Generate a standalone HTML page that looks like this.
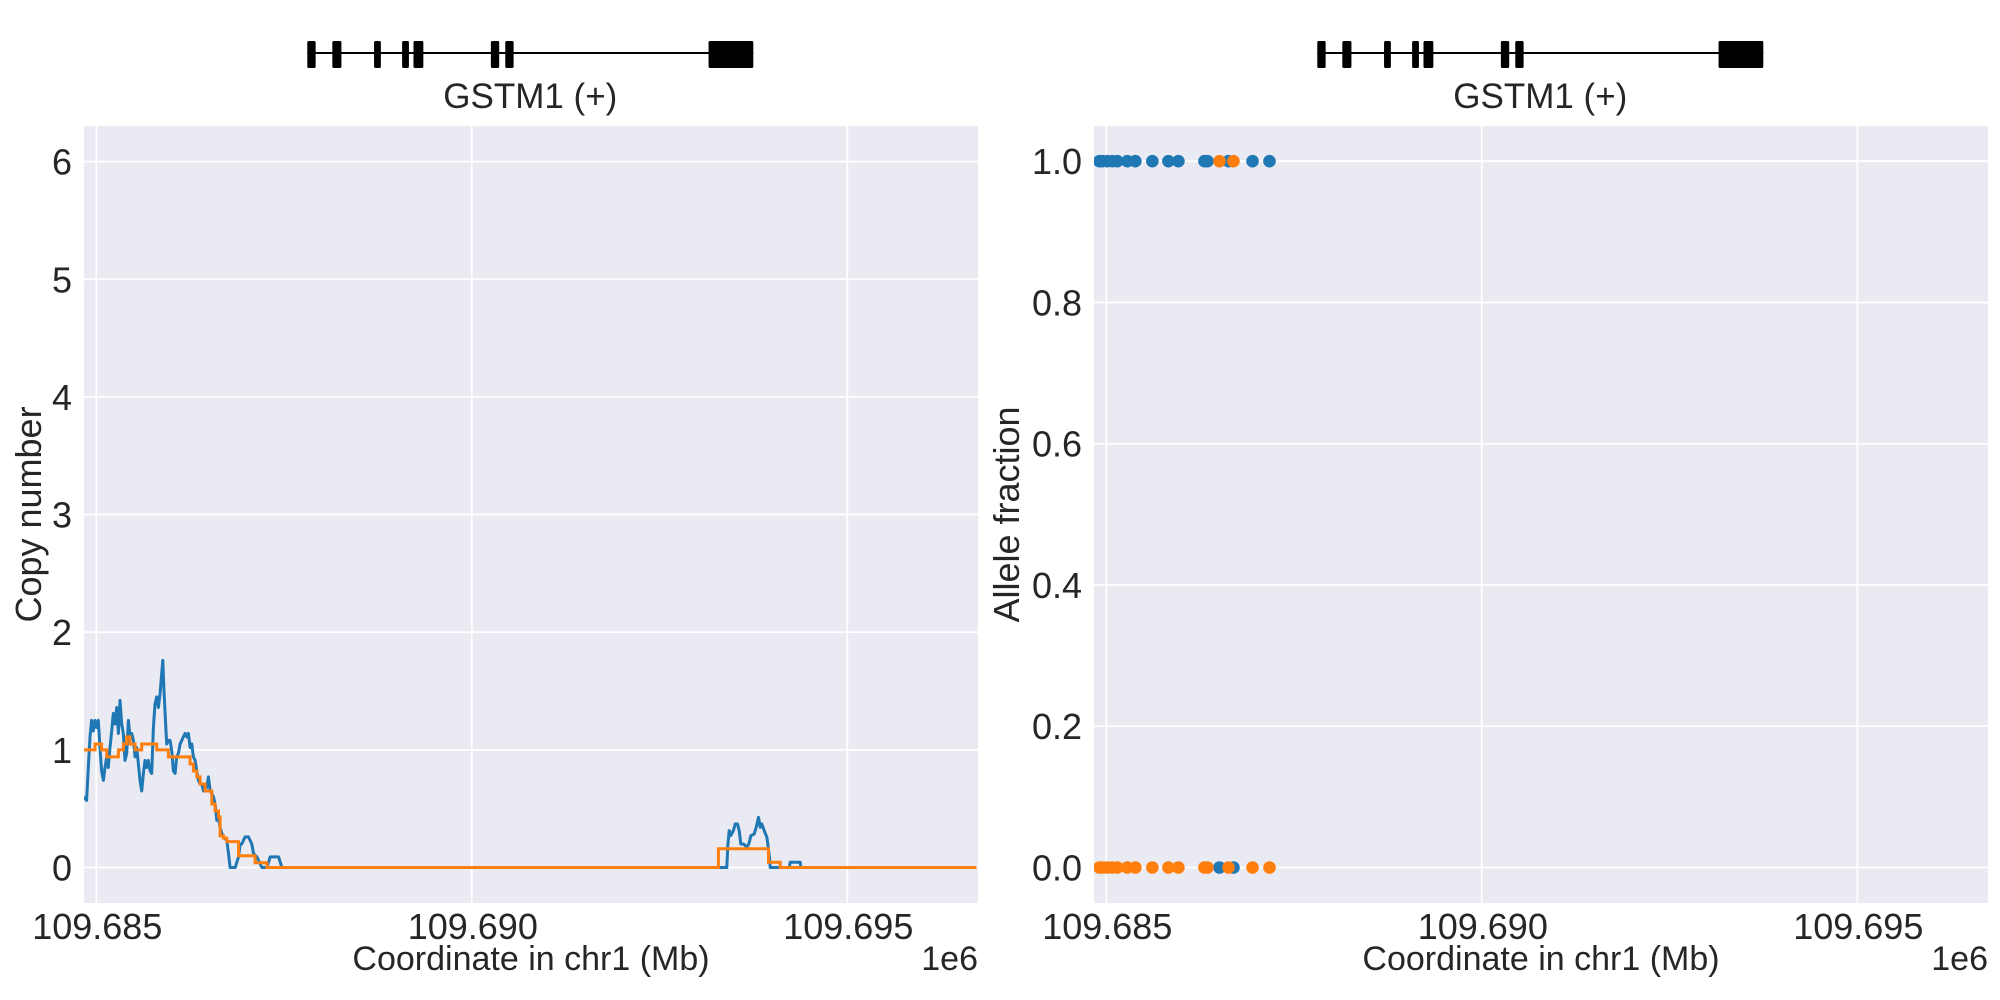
<!DOCTYPE html>
<html><head><meta charset="utf-8">
<style>
html,body{margin:0;padding:0;background:#fff;}
svg{display:block;font-family:"Liberation Sans",sans-serif;}
</style></head>
<body>
<svg id="fig" width="2000" height="1000" viewBox="0 0 2000 1000" xmlns="http://www.w3.org/2000/svg"></svg>
<script>
// ---- data ----
const cnBlueOffsetBp = [-173,-129,-106,-84,-62,-40,-17,5,27,49,71,94,116,138,160,183,205,227,249,271,294,316,338,360,382,405,427,449,471,494,516,538,560,582,605,627,649,671,693,716,738,760,782,804,827,849,871,885,902,916,938,960,982,1005,1027,1049,1071,1093,1116,1138,1160,1182,1205,1227,1249,1271,1293,1316,1338,1360,1382,1405,1427,1449,1471,1493,1516,1538,1560,1582,1605,1627,1649,1671,1693,1738,1760,1782,1849,1893,1916,1938,1982,2027,2071,2093,2138,2182,2205,2271,2316,2427,2471,8396,8409,8427,8449,8484,8507,8538,8560,8582,8618,8662,8689,8716,8760,8787,8818,8840,8862,8893,8929,8947,8964,8973,9227,9240,9373,9382,11720];
const cnBlueValues = [0.60,0.57,0.85,1.11,1.25,1.16,1.25,1.19,1.25,1.02,0.82,0.74,0.85,0.94,0.85,1.02,1.16,1.31,1.22,1.36,1.14,1.42,1.22,1.14,0.91,0.97,1.25,1.11,1.14,1.08,0.94,1.02,0.88,0.74,0.65,0.80,0.91,0.85,0.91,0.82,0.80,1.19,1.39,1.45,1.36,1.48,1.65,1.76,1.50,1.31,1.05,1.08,1.08,0.99,0.82,0.80,0.94,0.97,1.05,1.08,1.11,1.14,1.11,1.14,1.02,1.05,0.94,0.91,0.82,0.74,0.71,0.71,0.65,0.71,0.68,0.77,0.65,0.63,0.60,0.54,0.40,0.43,0.34,0.29,0.26,0.23,0.12,0,0,0.09,0.20,0.20,0.26,0.26,0.20,0.12,0.09,0.03,0,0,0.09,0.09,0,0,0.187,0.314,0.271,0.314,0.37,0.37,0.314,0.2,0.2,0.173,0.2,0.271,0.285,0.342,0.427,0.342,0.37,0.314,0.257,0.173,0.087,0,0,0.045,0.045,0,0];
const cnOrangeStartBp = [-173,-17,71,138,294,360,405,449,516,605,804,960,1249,1293,1338,1382,1449,1538,1582,1627,1649,1693,1738,1893,2115,2271,8284,8951,9107];
const cnOrangeValues = [1.0,1.05,1.0,0.94,1.0,1.05,1.11,1.05,1.0,1.05,1.0,0.94,0.88,0.82,0.77,0.71,0.65,0.54,0.48,0.43,0.27,0.25,0.22,0.10,0.04,0,0.16,0.045,0];
const afPosOffsetBp = [-93,-53,13,80,147,280,387,613,827,960,1307,1347,1507,1627,1693,1947,2173];
const afBlueValues = [1,1,1,1,1,1,1,1,1,1,1,1,0,1,0,1,1];
const afOrangeValues = [0,0,0,0,0,0,0,0,0,0,0,0,1,0,1,0,0];
const xTickLabels = ["109.685","109.690","109.695"];
const xTickValues = [109685000,109690000,109695000];
const cnTickValues = [0,1,2,3,4,5,6];
const afTickValues = [0,0.2,0.4,0.6,0.8,1.0];
const afTickLabels = ["0.0","0.2","0.4","0.6","0.8","1.0"];
const exonStartBp = [0,330,880,1250,1400,2420,2610,5290];
const exonEndBp = [110,450,970,1340,1530,2530,2720,5880];
const BASE = 109685000;
const XMAX_BP = 11720, XMIN_BP = -173;

const NS="http://www.w3.org/2000/svg";
const svg=document.getElementById('fig');
function mk(tag,attrs,parent){const e=document.createElementNS(NS,tag);for(const k in attrs)e.setAttribute(k,attrs[k]);(parent||svg).appendChild(e);return e;}

function panel(ox, isCN){
  const left=ox+84, right=ox+978, top=126, bottom=903;
  const x0px = ox+96.3, pxPerBp = 375.5/5000;
  const xs = bp => x0px + (bp - 0)*pxPerBp;
  const xAbs = c => xs(c-BASE);
  let ys;
  if(isCN){ ys = v => 867.5 - v*117.65; } else { ys = v => 867.5 - v*706.3; }
  const g=mk('g',{});
  
  
  const bg=mk('rect',{x:left,y:top,width:right-left,height:bottom-top,fill:'#eaeaf2'},g);
  
  
  const clipId='clip'+ox;
  const cp=mk('clipPath',{id:clipId},g);mk('rect',{x:left,y:top,width:right-left,height:bottom-top},cp);
  xTickValues.forEach((t,i)=>{
    const x=xAbs(t);
    const gl=mk('line',{x1:x,x2:x,y1:top,y2:bottom,stroke:'#fff','stroke-width':1.8},g);
    
    
    const tl=mk('text',{x:x+1,y:939,'font-size':36,fill:'#262626','text-anchor':'middle'},g);
    tl.textContent=xTickLabels[i];
    
    
  });
  const yt = isCN?cnTickValues:afTickValues;
  yt.forEach((t,i)=>{
    const y=ys(t);
    const gl=mk('line',{x1:left,x2:right,y1:y,y2:y,stroke:'#fff','stroke-width':1.8},g);
    
    
    const tl=mk('text',{x:left-12,y:y+13,'font-size':36,fill:'#262626','text-anchor':'end'},g);
    tl.textContent=isCN?String(t):afTickLabels[i];
    
    
  });
  const xl=mk('text',{x:(left+right)/2,y:970,'font-size':34,fill:'#262626','text-anchor':'middle'},g);
  xl.textContent='Coordinate in chr1 (Mb)';
  
  
  const oe=mk('text',{x:right,y:970,'font-size':34,fill:'#262626','text-anchor':'end'},g);
  oe.textContent='1e6';
  
  
  const yl=mk('text',{x:0,y:0,'font-size':36,fill:'#262626','text-anchor':'middle',transform:`translate(${ox+(isCN?41:9)},${(top+bottom)/2}) rotate(-90)`},g);
  yl.textContent=isCN?'Copy number':'Allele fraction';
  
  
  const gs = xs(0)+211, gscale=446/5880;
  const gx = bp => gs + bp*gscale;
  const gt=mk('g',{},g);
  
  
  mk('line',{x1:gx(0),x2:gx(5880),y1:53,y2:53,stroke:'#000','stroke-width':2},gt);
  exonStartBp.forEach((s,i)=>{
    const r=mk('rect',{x:gx(s),y:41,width:gx(exonEndBp[i])-gx(s),height:27,fill:'#000',rx:1.5},gt);
    
    
  });
  const gl=mk('text',{x:gx(2940),y:108,'font-size':35,fill:'#262626','text-anchor':'middle'},gt);
  gl.textContent='GSTM1 (+)';
  
  
  const data=mk('g',{'clip-path':`url(#${clipId})`},g);
  if(isCN){
    let d=cnBlueOffsetBp.map((b,i)=>(i?'L':'M')+xs(b).toFixed(1)+','+ys(cnBlueValues[i]).toFixed(1)).join('');
    const bl=mk('path',{d:d,fill:'none',stroke:'#1f77b4','stroke-width':3,'stroke-linejoin':'round'},data);
    
    
    let od='';
    cnOrangeStartBp.forEach((b,i)=>{
      const y=ys(cnOrangeValues[i]);
      od+=(i?'L':'M')+xs(b).toFixed(1)+','+y.toFixed(1);
      const nb = i<cnOrangeStartBp.length-1?cnOrangeStartBp[i+1]:XMAX_BP;
      od+='L'+xs(nb).toFixed(1)+','+y.toFixed(1);
    });
    const ol=mk('path',{d:od,fill:'none',stroke:'#ff7f0e','stroke-width':3},data);
    
    
  } else {
    afPosOffsetBp.forEach((b,i)=>{
      const c=mk('circle',{cx:xs(b),cy:ys(afBlueValues[i]),r:6.3,fill:'#1f77b4'},data);
      
      
    });
    afPosOffsetBp.forEach((b,i)=>{
      const c=mk('circle',{cx:xs(b),cy:ys(afOrangeValues[i]),r:6.3,fill:'#ff7f0e'},data);
      
      
    });
  }
}
panel(0,true);
panel(1010,false);
</script>
</body></html>
